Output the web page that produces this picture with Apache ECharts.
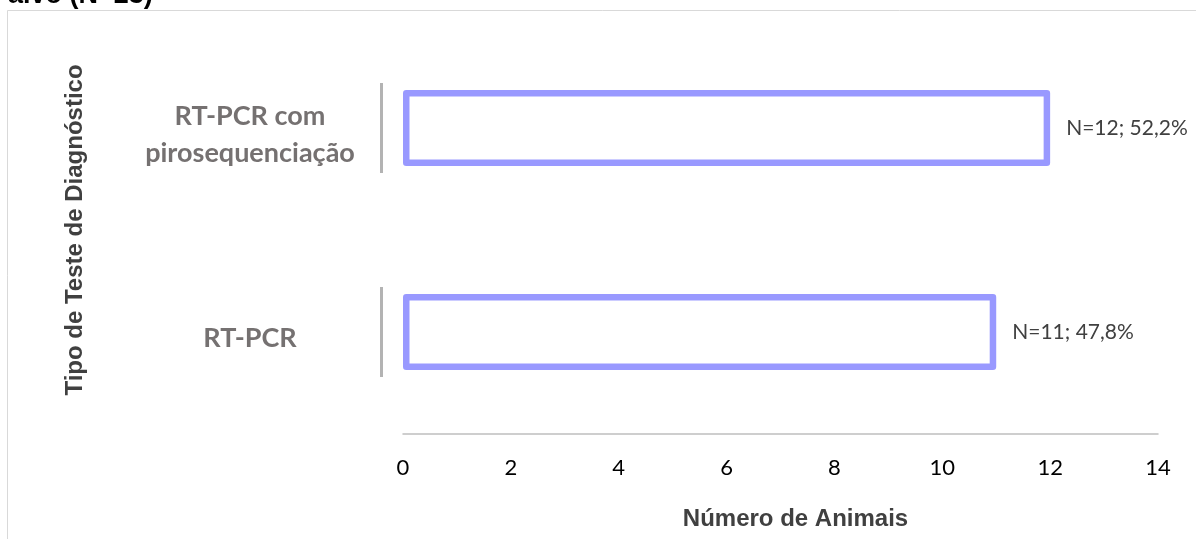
<!DOCTYPE html>
<html>
<head>
<meta charset="utf-8">
<script src="https://cdn.jsdelivr.net/npm/echarts@6/dist/echarts.min.js"></script>
<style>
  html, body { margin: 0; padding: 0; background: #fff; }
  #chart { width: 1196px; height: 539px; }
</style>
</head>
<body>
<div id="chart"></div>
<script>
// Diagnostic test types (bottom to top on the category axis)
const categories = ['RT-PCR', 'RT-PCR com\npirosequenciação'];
// Number of animals per test type
const animalCounts = [11, 12];
// Share of the total (N=23), as printed next to each bar
const percentLabels = ['47,8%', '52,2%'];
// Value axis ticks
const xMin = 0, xMax = 14, xStep = 2;

const chart = echarts.init(document.getElementById('chart'), null, { renderer: 'canvas' });

const labelFont = { fontFamily: 'Lato, "Open Sans", sans-serif', fontWeight: 'bold', fontSize: 27, color: '#757171', lineHeight: 37 };

const option = {
  backgroundColor: '#ffffff',
  animation: false,
  graphic: [
    // outer chart-area frame
    {
      type: 'rect', silent: true, z: -1,
      shape: { x: 7.5, y: 10.5, width: 1300, height: 700 },
      style: { fill: 'none', stroke: '#d9d9d9', lineWidth: 1 }
    },
    // title (partly above the visible area)
    {
      type: 'text', left: 8, top: -18,
      style: { text: 'aivo (N=23)', font: 'bold 27px "Liberation Sans", Arial, sans-serif', fill: '#000' }
    }
  ],
  grid: { left: 403, right: 38, top: 26, bottom: 105, containLabel: false },
  xAxis: {
    type: 'value', min: xMin, max: xMax, interval: xStep,
    name: 'Número de Animais', nameLocation: 'middle', nameGap: 73,
    nameTextStyle: {
      fontFamily: '"Liberation Sans", Arial, sans-serif', fontWeight: 'bold', fontSize: 24, color: '#404040',
      padding: [0, 0, 0, 30]
    },
    axisLine: { show: true, lineStyle: { color: '#bfbfbf', width: 1.5 } },
    axisTick: { show: false },
    splitLine: { show: false },
    axisLabel: { margin: 23, fontFamily: 'Lato, "Open Sans", sans-serif', fontSize: 22, color: '#000' }
  },
  yAxis: {
    type: 'category', data: categories,
    name: 'Tipo de Teste de Diagnóstico', nameLocation: 'middle', nameGap: 316, nameRotate: 90,
    nameTextStyle: { fontFamily: '"Liberation Sans", Arial, sans-serif', fontWeight: 'bold', fontSize: 24, color: '#404040' },
    axisLine: { show: false },
    axisTick: { show: false },
    splitLine: { show: false },
    axisLabel: {
      margin: 153, align: 'center',
      // a thin spacer line on top nudges each label block a little below the band centre
      formatter: v => '{s| }\n' + v.split('\n').map(l => '{t|' + l + '}').join('\n'),
      rich: {
        s: { fontSize: 4, lineHeight: 13 },
        t: labelFont
      }
    }
  },
  series: [
    {
      type: 'bar',
      data: animalCounts,
      barWidth: 76,
      itemStyle: { color: '#ffffff', borderColor: '#9999ff', borderWidth: 6.5, borderJoin: 'round' },
      label: {
        show: true, position: 'right', distance: 16,
        fontFamily: 'Lato, "Open Sans", sans-serif', fontSize: 21, color: '#404040',
        formatter: p => 'N=' + p.value + '; ' + percentLabels[p.dataIndex]
      }
    },
    {
      // short grey separators beside each category label
      type: 'custom',
      data: categories.map((c, i) => [xMin, i]),
      encode: { x: 0, y: 1 },
      silent: true,
      renderItem: (params, api) => {
        const p = api.coord([api.value(0), api.value(1)]);
        return {
          type: 'rect',
          shape: { x: p[0] - 23, y: p[1] - 45, width: 3, height: 90 },
          style: { fill: '#b3b3b3' }
        };
      }
    }
  ]
};

chart.setOption(option);
</script>
</body>
</html>
